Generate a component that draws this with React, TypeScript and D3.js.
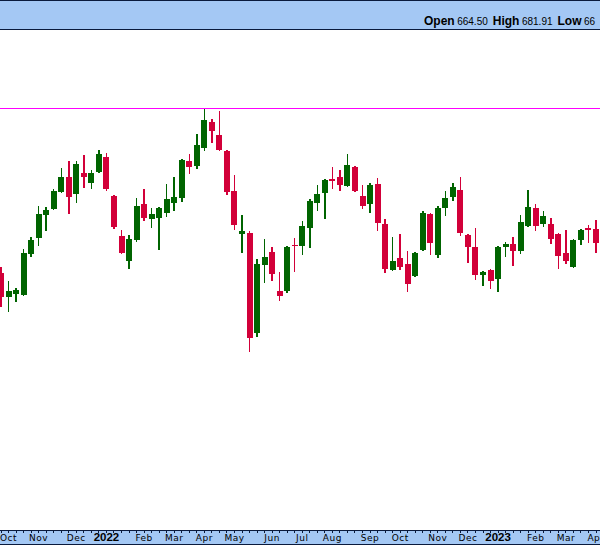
import React from 'react';
import * as d3 from 'd3';

// Weekly candles, first week starts Monday 27 Sep 2021
const START_WEEK = new Date(2021, 8, 27);

const OPEN = [576.5, 529.1, 534.5, 532.5, 614.5, 647.1, 692.5, 704.5, 738.5, 768.5,
  734.5, 776.5, 756.5, 778.5, 808.5, 730.5, 650.5, 600.5, 642.5, 714.5,
  684.5, 686.5, 696.5, 716.5, 726.5, 800.5, 790.5, 827.1, 878.5, 852.5,
  820.5, 740.5, 655.1, 656.5, 457.1, 593.1, 618.5, 540.5, 541.1, 632.5,
  630.5, 666.5, 716.5, 736.5, 764.5, 768.5, 750.5, 788.5, 730.5, 714.5,
  754.5, 674.5, 582.5, 606.5, 594.5, 571.1, 623.1, 694.5, 613.1, 707.1,
  729.1, 742.5, 652.5, 628.5, 573.1, 582.5, 565.1, 629.1, 634.5, 621.1,
  671.1, 706.5, 675.1, 674.5, 654.5, 616.5, 589.1, 643.1, 666.5, 664.5];

const HIGH = [589.1, 560.5, 547.1, 624.5, 649.1, 710.5, 708.5, 744.5, 786.5, 800.5,
  800.5, 812.5, 782.5, 822.5, 816.5, 732.5, 662.5, 652.5, 726.5, 744.5,
  706.5, 708.5, 754.5, 768.5, 804.5, 814.5, 854.5, 904.5, 884.5, 900.5,
  822.5, 772.5, 692.5, 660.5, 604.5, 644.5, 628.5, 578.5, 631.1, 646.5,
  680.5, 724.5, 752.5, 764.5, 788.5, 782.5, 814.5, 790.5, 752.5, 756.5,
  766.5, 684.5, 648.5, 654.5, 621.1, 618.5, 700.5, 696.5, 710.5, 740.5,
  756.5, 768.5, 654.5, 666.5, 580.5, 584.5, 630.5, 638.5, 648.5, 692.5,
  742.5, 714.5, 700.5, 686.5, 656.5, 662.5, 644.5, 664.5, 672.5, 681.91];

const LOW = [509.1, 497.9, 519.1, 530.5, 609.1, 631.1, 660.5, 702.5, 736.5, 694.5,
  716.5, 746.5, 744.5, 776.5, 740.5, 664.5, 614.5, 584.5, 638.5, 680.5,
  666.5, 622.5, 688.5, 700.5, 718.5, 774.5, 784.5, 821.1, 837.1, 821.1,
  733.1, 663.1, 617.1, 419.1, 449.1, 557.1, 561.1, 521.1, 537.1, 579.1,
  612.5, 626.5, 700.5, 684.5, 744.5, 740.5, 748.5, 738.5, 704.5, 696.5,
  660.5, 576.5, 580.5, 582.5, 539.1, 569.1, 621.1, 613.1, 607.1, 691.1,
  721.1, 651.1, 597.1, 563.1, 551.1, 545.1, 539.1, 608.5, 590.5, 615.1,
  669.1, 661.1, 669.1, 635.1, 585.1, 595.1, 587.1, 633.1, 637.1, 617.1];

const CLOSE = [529.1, 540.5, 542.5, 616.5, 642.5, 694.5, 702.5, 741.1, 768.5, 728.5,
  794.5, 768.5, 776.5, 814.5, 744.5, 668.5, 616.5, 644.5, 710.5, 686.5,
  694.5, 706.5, 724.5, 728.5, 802.5, 788.5, 832.5, 882.5, 861.1, 822.5,
  739.1, 673.1, 660.5, 447.1, 594.5, 608.5, 575.1, 531.1, 628.5, 630.5,
  670.5, 720.5, 734.5, 762.5, 760.5, 752.5, 792.5, 740.5, 710.5, 752.5,
  676.5, 584.5, 600.5, 588.5, 555.1, 616.5, 696.5, 637.1, 706.5, 726.5,
  748.5, 657.1, 629.1, 573.1, 578.5, 561.1, 628.5, 634.5, 621.1, 678.5,
  708.5, 671.1, 690.5, 645.1, 611.1, 601.1, 642.5, 662.5, 662.5, 637.1];

const HEADER_LABELS = ['Open', 'High', 'Low'];
const HEADER_VALUES = ['664.50', '681.91', '66'];
const RESISTANCE = 906.5;

const W = 600;
const H = 546;
const BLUE = '#a4c8f4';
const BORDER = '#0a1a3c';
const UP = '#006400';
const DOWN = '#d20039';

export default function App() {
  const dates = OPEN.map((_, i) => d3.timeWeek.offset(START_WEEK, i));
  const x = d3.scaleTime().domain([dates[0], dates[dates.length - 1]]).range([1, 596]);
  const y = d3.scaleLinear().domain([64.5, 1062.5]).range([529, 30]);
  const bodyW = 6;

  const monthTicks = dates
    .map((d, i) => ({ d, i }))
    .filter(({ d, i }) => i > 0 && d.getMonth() !== dates[i - 1].getMonth());

  const fmtMonth = d3.timeFormat('%b');
  const fmtYear = d3.timeFormat('%Y');

  return (
    <svg width={W} height={H} style={{ position: 'absolute', left: 0, top: 0, background: '#fff' }}>
      {/* header */}
      <rect x={-1} y={0.5} width={W + 2} height={29} fill={BLUE} stroke={BORDER} strokeWidth={1} shapeRendering="crispEdges" />
      <text x={424} y={25} fontFamily="'Liberation Sans', Arial, sans-serif" fill="#000">
        {HEADER_LABELS.map((lab, i) => (
          <React.Fragment key={lab}>
            <tspan fontWeight="bold" fontSize={12} dx={i === 0 ? 0 : 5}>{lab}</tspan>
            <tspan fontSize={10} dx={2.5}>{HEADER_VALUES[i]}</tspan>
          </React.Fragment>
        ))}
      </text>

      {/* resistance line */}
      <line x1={0} x2={W} y1={y(RESISTANCE)} y2={y(RESISTANCE)} stroke="#ff00ff" strokeWidth={1} shapeRendering="crispEdges" />

      {/* candles */}
      <g shapeRendering="crispEdges">
        {dates.map((d, i) => {
          const o = OPEN[i], c = CLOSE[i], h = HIGH[i], l = LOW[i];
          const up = c >= o;
          const col = up ? UP : DOWN;
          const cx = x(d);
          const top = y(Math.max(o, c));
          const bh = Math.max(1, Math.abs(y(o) - y(c)));
          return (
            <g key={i}>
              <line x1={cx} x2={cx} y1={y(h)} y2={y(l)} stroke={col} strokeWidth={1.5} />
              <rect x={cx - bodyW / 2} y={top} width={bodyW} height={bh} fill={col} />
            </g>
          );
        })}
      </g>

      {/* time axis */}
      <rect x={-1} y={530.5} width={W + 2} height={14} fill={BLUE} stroke={BORDER} strokeWidth={1} shapeRendering="crispEdges" />
      <g shapeRendering="crispEdges">
        {dates.map((d, i) => (
          <line key={i} x1={x(d)} x2={x(d)} y1={531} y2={533} stroke={BORDER} strokeWidth={1} />
        ))}
      </g>
      {monthTicks.map(({ d, i }) => {
        const isYear = d.getMonth() === 0;
        return (
          <text
            key={i}
            x={x(d)}
            y={541}
            textAnchor="middle"
            fill="#000"
            fontFamily={isYear ? "'Liberation Sans', Arial, sans-serif" : "'DejaVu Sans', Verdana, sans-serif"}
            fontWeight={isYear ? 'bold' : 'normal'}
            fontSize={isYear ? 11.5 : 9}
            letterSpacing={isYear ? 0 : 0.5}
          >
            {isYear ? fmtYear(d) : fmtMonth(d)}
          </text>
        );
      })}
    </svg>
  );
}
